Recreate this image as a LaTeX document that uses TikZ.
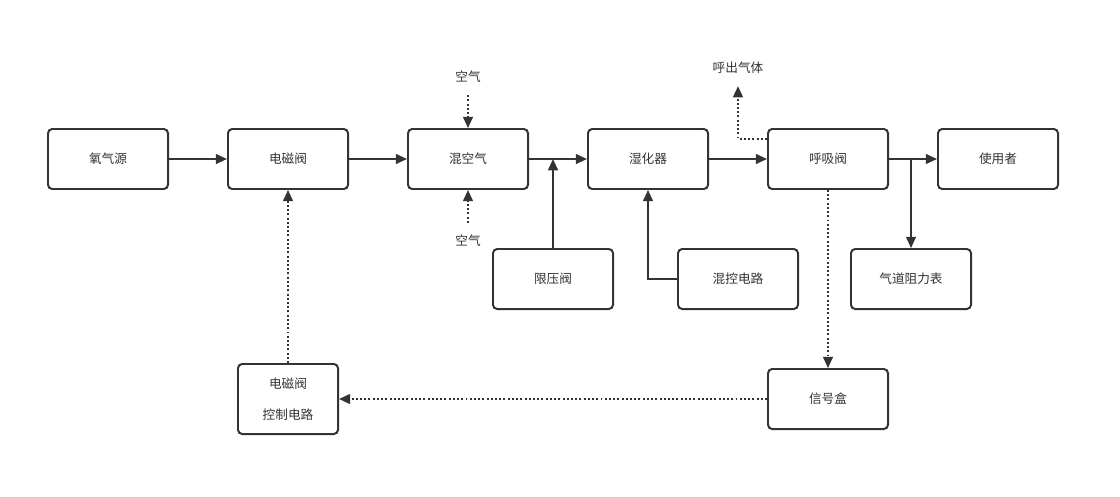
\documentclass[tikz,border=0pt]{standalone}
\usepackage{fontspec}
\setmainfont{Noto Sans CJK SC}
\usetikzlibrary{arrows.meta, positioning}
\definecolor{linegray}{RGB}{51,51,51}
\tikzstyle{pbox}=[rectangle, rounded corners=3pt, draw=linegray, line width=1.4pt,
  fill=white, font=\fontsize{9}{11}\selectfont, text centered, align=center,
  minimum width=3cm, minimum height=1.5cm, text=linegray]
\tikzstyle{plabel}=[font=\fontsize{9}{11}\selectfont, text=linegray, inner sep=0pt]
\tikzstyle{garr}=[-{Triangle[length=8pt,width=7pt]}, line width=1.4pt, color=linegray]
\tikzstyle{darr}=[garr, dash pattern=on 1.4pt off 1.6pt]

\begin{document}
\begin{tikzpicture}[x=0.025cm, y=-0.025cm]
        \useasboundingbox (0,0) rectangle (1120,496);
        % main line
        \node[pbox] (b1) at (108,159) {氧气源};
        \node[pbox] (b2) at (288,159) {电磁阀};
        \node[pbox] (b3) at (468,159) {混空气};
        \node[pbox] (b4) at (648,159) {湿化器};
        \node[pbox] (b5) at (828,159) {呼吸阀};
        \node[pbox] (b6) at (998,159) {使用者};
        % side boxes
        \node[pbox] (b7) at (553,279) {限压阀};
        \node[pbox] (b8) at (738,279) {混控电路};
        \node[pbox] (b9) at (911,279) {气道阻力表};
        \node[pbox, minimum width=2.5cm, minimum height=1.75cm,
          font=\fontsize{9}{22}\selectfont] (b10) at (288,399) {电磁阀\\控制电路};
        \node[pbox] (b11) at (828,399) {信号盒};
        % labels
        \node[plabel] (air1) at (468,77) {空气};
        \node[plabel] (air2) at (468,241) {空气};
        \node[plabel] (out) at (738,68) {呼出气体};
        % connectors
        \draw[garr] (b1)--(b2);
        \draw[garr] (b2)--(b3);
        \draw[garr] (b3)--(b4);
        \draw[garr] (b4)--(b5);
        \draw[garr] (b5)--(b6);
        \draw[garr] (b7.north)--(b7.north |- b3.east);
        \draw[garr] (b8.west) -| (b4.south);
        \draw[garr] (b9.north |- b5.east)--(b9.north);
        \draw[darr] ([yshift=-0.3cm]air1.south)--(b3.north);
        \draw[darr] ([yshift=0.3cm]air2.north)--(b3.south);
        \draw[darr] ([yshift=0.5cm]b5.west) -| ([yshift=-0.3cm]out.south);
        \draw[darr] (b5.south)--(b11.north);
        \draw[darr] (b11.west)--(b10.east);
        \draw[darr] (b10.north)--(b2.south);
      \end{tikzpicture}
\end{document}
